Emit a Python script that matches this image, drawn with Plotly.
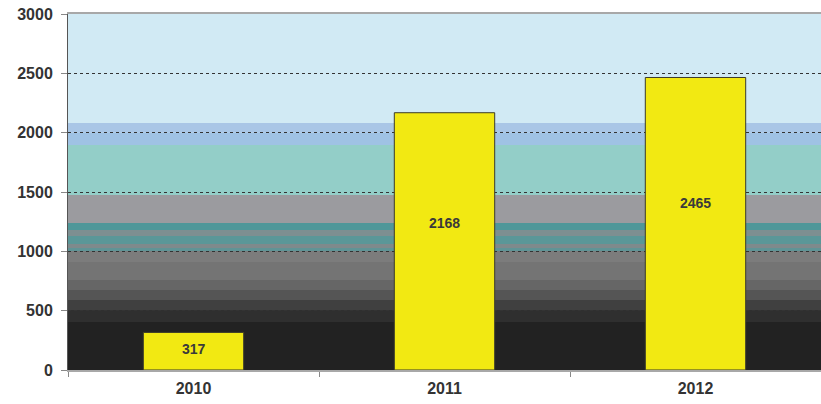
import plotly.graph_objects as go

# данные
years = ['2010', '2011', '2012']
values = [317, 2168, 2465]

# полосы фона (нижняя граница, верхняя граница, цвет)
bands = [
    (0, 405, '#222222'),
    (405, 506, '#2f2f2f'),
    (506, 590, '#404040'),
    (590, 674, '#555555'),
    (674, 759, '#666666'),
    (759, 910, '#747474'),
    (910, 1003, '#7c7c7c'),
    (1003, 1028, '#5f9496'),
    (1028, 1062, '#7e8a8c'),
    (1062, 1130, '#5a9798'),
    (1130, 1180, '#7d8f91'),
    (1180, 1239, '#4f9799'),
    (1239, 1475, '#9b9b9f'),
    (1475, 1897, '#93cec8'),
    (1897, 2000, '#9fc2e4'),
    (2000, 2082, '#a9c6e6'),
    (2082, 3000, '#d1eaf4'),
]

fig = go.Figure()

fig.add_trace(go.Bar(
    x=years, y=values, width=0.4,
    marker=dict(color='#f2e912', line=dict(color='#3a3a2a', width=1)),
    hoverinfo='skip',
))

shapes = []
for y0, y1, c in bands:
    shapes.append(dict(type='rect', xref='paper', yref='y', x0=0, x1=1, y0=y0, y1=y1,
                       fillcolor=c, line=dict(width=0), layer='below'))

# подписи на столбцах (x по индексу категории)
annotations = []
for i, v in enumerate(values):
    annotations.append(dict(x=i, y=v * 0.57, text=str(v), showarrow=False,
                            font=dict(family='Liberation Sans, Arial', size=14, weight='bold', color='#3a3a3a'),
                            xanchor='center', yanchor='middle'))

fig.update_layout(
    width=821, height=404,
    margin=dict(l=68, r=0, t=14, b=34),
    paper_bgcolor='white',
    plot_bgcolor='#d1eaf4',
    showlegend=False,
    shapes=shapes,
    annotations=annotations,
    font=dict(family='Liberation Sans, Arial', color='#333333'),
    xaxis=dict(
        type='category', range=[-0.5, 2.5],
        tickfont=dict(size=16, family='Liberation Sans, Arial', weight='bold', color='#333333'),
        showline=True, mirror=True, linecolor='#a8a8a8', linewidth=2,
        ticks='outside', tickson='boundaries', ticklen=5, tickcolor='#888888',
        ticklabelstandoff=3,
        showgrid=False, zeroline=False,
    ),
    yaxis=dict(
        range=[0, 3000], dtick=500,
        tickfont=dict(size=16, family='Liberation Sans, Arial', weight='bold', color='#333333'),
        showline=True, linecolor='#555555', linewidth=1,
        ticks='outside', ticklen=6, tickcolor='#888888',
        ticklabelstandoff=5,
        showgrid=True, gridcolor='#333333', gridwidth=1, griddash='dot',
        zeroline=False,
    ),
)

# убираем отступ страницы, чтобы график занял всё окно
fig.write_html("out.html", config={'displayModeBar': False},
               post_script="document.body.style.margin='0';document.body.style.overflow='hidden';")
